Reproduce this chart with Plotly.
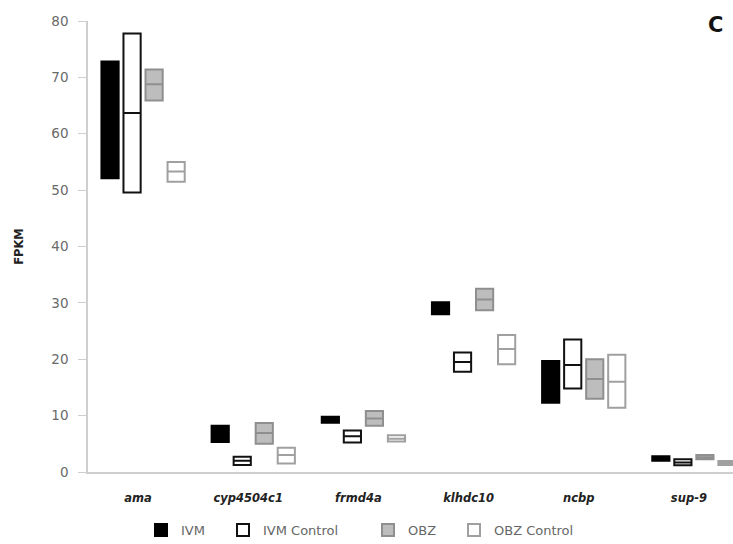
import plotly.graph_objects as go

# Genes on the x axis
genes = ["ama", "cyp4504c1", "frmd4a", "klhdc10", "ncbp", "sup-9"]

# FPKM ranges per treatment: low / middle / high for each gene
ivm_low = [52.1, 5.3, 8.75, 28.0, 12.3, 2.0]
ivm_mid = [62.0, 6.7, 9.3, 29.0, 16.0, 2.4]
ivm_high = [72.8, 8.2, 9.8, 30.1, 19.7, 2.8]

ivm_ctrl_low = [49.6, 1.25, 5.25, 17.8, 14.8, 1.2]
ivm_ctrl_mid = [63.7, 2.0, 6.35, 19.5, 19.0, 1.7]
ivm_ctrl_high = [77.8, 2.7, 7.35, 21.2, 23.5, 2.25]

obz_low = [65.9, 5.0, 8.2, 28.7, 13.0, 2.25]
obz_mid = [68.8, 6.9, 9.5, 30.6, 16.5, 2.6]
obz_high = [71.4, 8.7, 10.8, 32.5, 20.0, 3.0]

obz_ctrl_low = [51.5, 1.5, 5.4, 19.1, 11.4, 1.25]
obz_ctrl_mid = [53.3, 3.0, 5.9, 21.8, 16.0, 1.6]
obz_ctrl_high = [55.0, 4.3, 6.5, 24.3, 20.8, 1.95]

W, H = 733, 544
M_L, M_R, M_T, M_B = 88, 0, 21, 72
PLOT_W, PLOT_H = W - M_L - M_R, H - M_T - M_B

# name, values, fill, outline, legend id, legend left edge (px)
series = [
    ("IVM", ivm_low, ivm_mid, ivm_high, "#000000", "#000000", "legend", 141),
    ("IVM Control", ivm_ctrl_low, ivm_ctrl_mid, ivm_ctrl_high, "#ffffff", "#111111", "legend2", 223),
    ("OBZ", obz_low, obz_mid, obz_high, "#bdbdbd", "#8f8f8f", "legend3", 368),
    ("OBZ Control", obz_ctrl_low, obz_ctrl_mid, obz_ctrl_high, "#ffffff", "#a0a0a0", "legend4", 454),
]

fig = go.Figure()
legend_layouts = {}
for name, lo, mid, hi, fill, edge, leg, leg_x in series:
    fig.add_trace(go.Box(
        name=name,
        x=genes,
        q1=lo,
        median=mid,
        q3=hi,
        lowerfence=lo,
        upperfence=hi,
        fillcolor=fill,
        line=dict(color=edge, width=2),
        whiskerwidth=0,
        boxpoints=False,
        legend=leg,
    ))
    legend_layouts[leg] = dict(
        orientation="h",
        xref="container", yref="container",
        x=leg_x / W, xanchor="left",
        y=1 - 530 / H, yanchor="middle",
        font=dict(family="DejaVu Sans, sans-serif", size=13, color="#666666"),
        bgcolor="rgba(0,0,0,0)",
        itemclick=False,
    )

fig.update_layout(
    width=W,
    height=H,
    margin=dict(l=M_L, r=M_R, t=M_T, b=M_B),
    paper_bgcolor="white",
    plot_bgcolor="white",
    boxmode="group",
    boxgap=0.2,
    boxgroupgap=0.22,
    font=dict(family="DejaVu Sans, sans-serif", color="#555555"),
    showlegend=True,
    xaxis=dict(
        type="category",
        range=[-0.5, 5.355],
        showline=True,
        linecolor="#cfcfcf",
        linewidth=2,
        ticks="",
        showgrid=False,
        tickfont=dict(family="DejaVu Sans, sans-serif", size=11.5, color="#222222",
                      style="italic", weight="bold"),
        ticklabelstandoff=14,
        ticklabelshift=-5,
    ),
    yaxis=dict(
        range=[0, 80],
        tickvals=[0, 10, 20, 30, 40, 50, 60, 70, 80],
        showline=True,
        linecolor="#cfcfcf",
        linewidth=1.5,
        ticks="outside",
        ticklen=8,
        tickcolor="#cfcfcf",
        showgrid=False,
        zeroline=False,
        tickfont=dict(family="DejaVu Sans, sans-serif", size=13.5, color="#6a6a6a"),
        ticklabelstandoff=7,
        title=dict(text="FPKM", font=dict(family="DejaVu Sans, sans-serif", size=11.5,
                                          color="#222222", weight="bold"), standoff=25),
    ),
    annotations=[
        dict(
            text="C",
            xref="paper", yref="paper",
            x=(715 - M_L) / PLOT_W, y=1 + (M_T - 25) / PLOT_H,
            xanchor="center", yanchor="middle",
            showarrow=False,
            font=dict(family="DejaVu Sans, sans-serif", size=21, color="#111111", weight="bold"),
        )
    ],
    **legend_layouts,
)

fig.write_html("out.html")
